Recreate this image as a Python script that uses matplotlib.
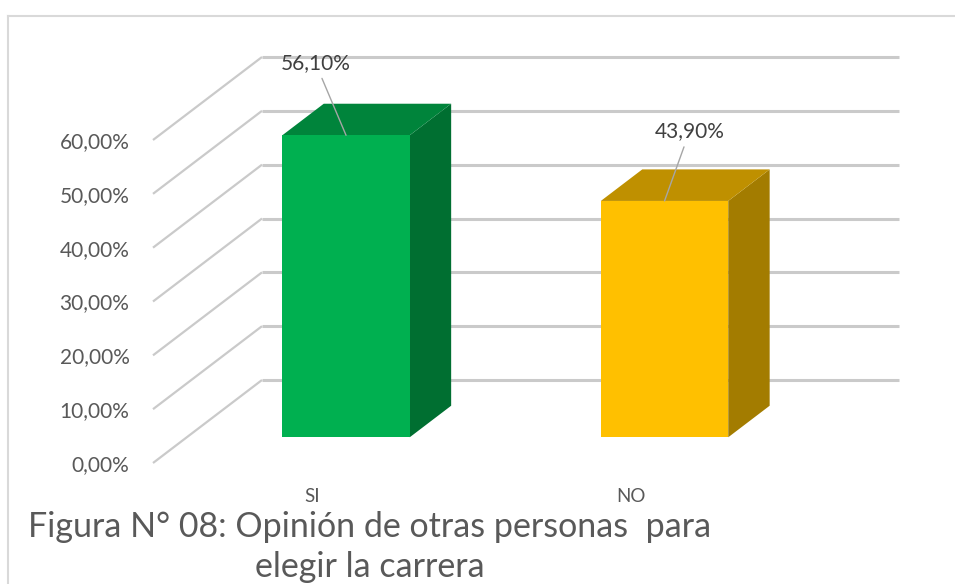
import matplotlib
matplotlib.use('Agg')
import matplotlib.pyplot as plt
from matplotlib.patches import Polygon
from matplotlib.lines import Line2D

plt.rcParams['font.family'] = ['Lato', 'DejaVu Sans']

# data
categorias = ['SI', 'NO']
valores = [56.10, 43.90]
etiquetas = ['56,10%', '43,90%']
yticks = [0, 10, 20, 30, 40, 50, 60]
titulo = 'Figura N° 08: Opinión de otras personas  para\nelegir la carrera'

frente = ['#00B050', '#FFC000']
arriba = ['#00843B', '#BF9000']
lado = ['#006F31', '#A37C00']

W, H = 955, 584
fig = plt.figure(figsize=(W / 100, H / 100), dpi=100)
fig.patch.set_facecolor('white')

# front plane of the plot area, in pixels
x0, x1 = 153, 790
y0, y1 = 463, 140
ax = fig.add_axes([x0 / W, (H - y0) / H, (x1 - x0) / W, (y0 - y1) / H])
ax.set_xlim(-0.5, 1.5)
ax.set_ylim(0, 60)

# depth vector (oblique 3d), in data units
ddx = 109 / ((x1 - x0) / 2)
ddy = 83 / ((y0 - y1) / 60)

grid_c = '#CACACA'
for v in yticks:
    ax.plot([-0.5, -0.5 + ddx], [v, v + ddy], color=grid_c, lw=1.6,
            clip_on=False, zorder=1, solid_capstyle='butt')
    ax.plot([-0.5 + ddx, 1.5 + ddx], [v + ddy, v + ddy], color=grid_c, lw=2.2,
            clip_on=False, zorder=1, solid_capstyle='butt')

# bars
w = 0.4
d0, d1 = 0.31, 0.69
for i, v in enumerate(valores):
    xl = i - w / 2
    xr = i + w / 2
    ox0, oy0 = d0 * ddx, d0 * ddy
    ox1, oy1 = d1 * ddx, d1 * ddy
    side = [(xr + ox0, oy0), (xr + ox1, oy1), (xr + ox1, v + oy1), (xr + ox0, v + oy0)]
    top = [(xl + ox0, v + oy0), (xr + ox0, v + oy0), (xr + ox1, v + oy1), (xl + ox1, v + oy1)]
    front = [(xl + ox0, oy0), (xr + ox0, oy0), (xr + ox0, v + oy0), (xl + ox0, v + oy0)]
    for pts, c in [(side, lado[i]), (top, arriba[i]), (front, frente[i])]:
        ax.add_patch(Polygon(pts, closed=True, facecolor=c, edgecolor='none',
                             clip_on=False, zorder=3))

# data labels with leader lines
offs = [(-22, 52), (18, 50)]
for i, v in enumerate(valores):
    ax.annotate(etiquetas[i], xy=(i + d0 * ddx, v + d0 * ddy), xytext=offs[i],
                textcoords='offset points', ha='center', va='center',
                fontsize=15, color='#404040', zorder=5, annotation_clip=False,
                arrowprops=dict(arrowstyle='-', color='#A6A6A6', lw=1,
                                shrinkA=2, shrinkB=0))

ax.set_yticks(yticks)
ax.set_yticklabels([('%.2f' % t).replace('.', ',') + '%' for t in yticks])
ax.set_xticks(range(len(categorias)))
ax.set_xticklabels(categorias)
ax.tick_params(axis='y', length=0, pad=17, labelsize=15, labelcolor='#595959')
ax.tick_params(axis='x', length=0, pad=18, labelsize=13.5, labelcolor='#595959')
for s in ax.spines.values():
    s.set_visible(False)
ax.patch.set_alpha(0)

# title below the chart
fig.text(370 / W, 1 - 547 / H, titulo, ha='center', va='center', fontsize=24.5,
         color='#595959', linespacing=1.3)

# chart area border
fig.add_artist(Line2D([8 / W, 1], [1 - 16 / H, 1 - 16 / H], color='#D9D9D9', lw=1.5))
fig.add_artist(Line2D([8 / W, 8 / W], [1 - 16 / H, 0], color='#D9D9D9', lw=1.5))

fig.savefig('out.png', dpi=100)
